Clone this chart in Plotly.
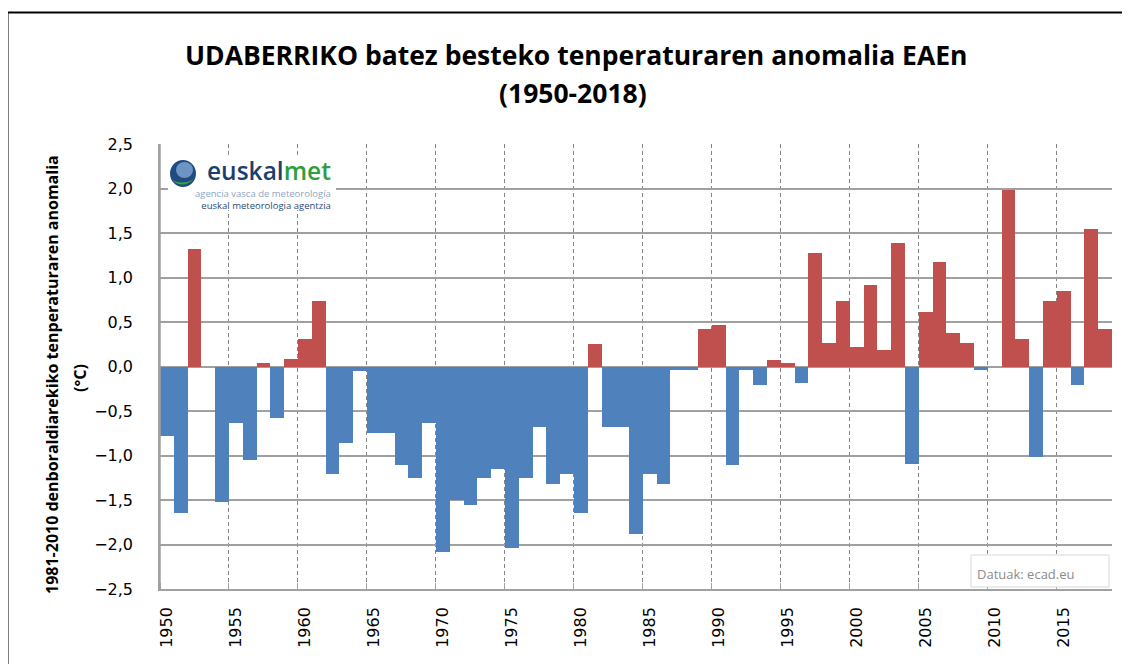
import plotly.graph_objects as go

years = list(range(1950, 2019))
anomalies = [
    -0.78, -1.65, 1.32, 0.0, -1.52, -0.63, -1.05, 0.04, -0.58, 0.08,
    0.31, 0.74, -1.21, -0.86, -0.05, -0.75, -0.75, -1.11, -1.25, -0.63,
    -2.08, -1.50, -1.56, -1.25, -1.15, -2.04, -1.25, -0.68, -1.32, -1.21,
    -1.65, 0.25, -0.68, -0.68, -1.88, -1.21, -1.32, -0.04, -0.04, 0.42,
    0.47, -1.11, -0.04, -0.21, 0.07, 0.04, -0.19, 1.28, 0.26, 0.74,
    0.22, 0.92, 0.18, 1.39, -1.09, 0.61, 1.17, 0.38, 0.26, -0.04,
    0.0, 1.98, 0.31, -1.02, 0.74, 0.85, -0.21, 1.55, 0.42,
]
tick_years = list(range(1950, 2016, 5))
tick_labels = [str(y) for y in tick_years]

title_line1 = "UDABERRIKO batez besteko tenperaturaren anomalia EAEn"
title_line2 = "(1950-2018)"
ytitle_line1 = "1981-2010 denboraldiarekiko tenperaturaren anomalia"
ytitle_line2 = "(°C)"
source_text = "Datuak: ecad.eu"

RED = "#C0504D"
BLUE = "#4F81BD"
colors = [RED if v > 0 else BLUE for v in anomalies]

fig = go.Figure()
fig.add_trace(go.Bar(x=years, y=anomalies, marker=dict(color=colors, line=dict(width=0)),
                     hoverinfo="x+y"))

W, H = 1130, 664
OFF = 8  # page body margin
# plot area in screen pixels
SL, SR, ST, SB = 160, 1112, 144, 589
L, R, T, B = SL - OFF, SR - OFF, ST - OFF, SB - OFF


def px(xs):
    return (xs - SL) / (SR - SL)


def py(ys):
    return (SB - ys) / (SB - ST)


GRID = "#A0A0A0"
fig.update_layout(
    width=W, height=H,
    margin=dict(l=L, r=W - R, t=T, b=H - B),
    plot_bgcolor="white", paper_bgcolor="white",
    bargap=0, showlegend=False,
    separators=", ",
    font=dict(family="DejaVu Sans", color="#000000"),
)
fig.update_xaxes(
    range=[1949.5, 2018.5],
    tickmode="array", tickvals=tick_years, ticktext=tick_labels,
    tickangle=-90, ticks="", showgrid=False,
    tickfont=dict(family="DejaVu Sans", size=16, color="#000000"),
    showline=True, linecolor=GRID, linewidth=1.5,
    ticklabelstandoff=10,
    minor=dict(tick0=1949.5, dtick=5, ticks="inside", ticklen=6, tickcolor=GRID,
               showgrid=True, gridcolor="#858585", griddash="4px,3px", gridwidth=1),
    zeroline=False,
)
fig.update_yaxes(
    range=[-2.5, 2.5], dtick=0.5, tick0=0, tickformat=".1f",
    showgrid=True, gridcolor=GRID, gridwidth=1.5,
    zeroline=False,
    showline=True, linecolor=GRID, linewidth=1.5,
    ticks="", ticklabelstandoff=22,
    tickfont=dict(family="DejaVu Sans", size=16, color="#000000"),
)

shapes = []
# outer frame
shapes.append(dict(type="rect", xref="paper", yref="paper",
                   x0=px(7.5), x1=px(1145), y0=py(680), y1=py(12.5),
                   line=dict(color="#000000", width=2), fillcolor="rgba(0,0,0,0)", layer="above"))
# left axis line of the plot area
shapes.append(dict(type="line", xref="paper", yref="paper", x0=0, x1=0, y0=0, y1=1,
                   line=dict(color=GRID, width=1.5), layer="above"))
# logo white background
shapes.append(dict(type="rect", xref="paper", yref="paper",
                   x0=px(168), x1=px(336), y0=py(210), y1=py(155),
                   line=dict(width=0), fillcolor="white", layer="above"))
# globe
shapes.append(dict(type="circle", xref="paper", yref="paper",
                   x0=px(170), x1=px(196), y0=py(187), y1=py(160),
                   line=dict(width=0), fillcolor="#1F4A82", layer="above"))
shapes.append(dict(type="circle", xref="paper", yref="paper",
                   x0=px(176), x1=px(193), y0=py(178), y1=py(162),
                   line=dict(width=0), fillcolor="#6D94C4", layer="above"))
shapes.append(dict(type="path", xref="paper", yref="paper",
                   path=f"M {px(172)},{py(180)} Q {px(183)},{py(190)} {px(195)},{py(178)} "
                        f"Q {px(184)},{py(186)} {px(172)},{py(180)} Z",
                   line=dict(width=0), fillcolor="#3AA53E", layer="above"))
# source box
shapes.append(dict(type="rect", xref="paper", yref="paper",
                   x0=px(971), x1=px(1109), y0=py(587), y1=py(555),
                   line=dict(color="#D9D9D9", width=1), fillcolor="white", layer="above"))
fig.update_layout(shapes=shapes)

ann = []
ann.append(dict(text=f"<b>{title_line1}</b>", x=px(575.5), y=py(55), xref="paper", yref="paper",
                showarrow=False, xanchor="center", yanchor="middle",
                font=dict(family="Open Sans", size=26.5, color="#000000")))
ann.append(dict(text=f"<b>{title_line2}</b>", x=px(573), y=py(93), xref="paper", yref="paper",
                showarrow=False, xanchor="center", yanchor="middle",
                font=dict(family="Open Sans", size=26.5, color="#000000")))
ann.append(dict(text=f"<b>{ytitle_line1}</b>", x=px(52), y=py(375), xref="paper", yref="paper",
                showarrow=False, xanchor="center", yanchor="middle", textangle=-90,
                font=dict(family="Open Sans", size=16, color="#000000")))
ann.append(dict(text=f"<b>{ytitle_line2}</b>", x=px(80), y=py(378), xref="paper", yref="paper",
                showarrow=False, xanchor="center", yanchor="middle", textangle=-90,
                font=dict(family="Open Sans", size=16, color="#000000")))
ann.append(dict(text="<span style='color:#1B3F6E'>euskal</span><span style='color:#2E9E3E'>met</span>",
                x=px(333), y=py(170), xref="paper", yref="paper",
                showarrow=False, xanchor="right", yanchor="middle",
                font=dict(family="Open Sans", size=24.5, weight=600)))
ann.append(dict(text="<span style='color:#8FA6C0'>agencia vasca de meteorología</span><br>"
                     "<span style='color:#2B4A75'>euskal meteorologia agentzia</span>",
                x=px(333), y=py(199), xref="paper", yref="paper",
                showarrow=False, xanchor="right", yanchor="middle", align="right",
                font=dict(family="Open Sans", size=9.5)))
ann.append(dict(text=source_text, x=px(975), y=py(574), xref="paper", yref="paper",
                showarrow=False, xanchor="left", yanchor="middle",
                font=dict(family="Open Sans", size=13, color="#8C8C8C")))
fig.update_layout(annotations=ann)

fig.write_html("out.html")
